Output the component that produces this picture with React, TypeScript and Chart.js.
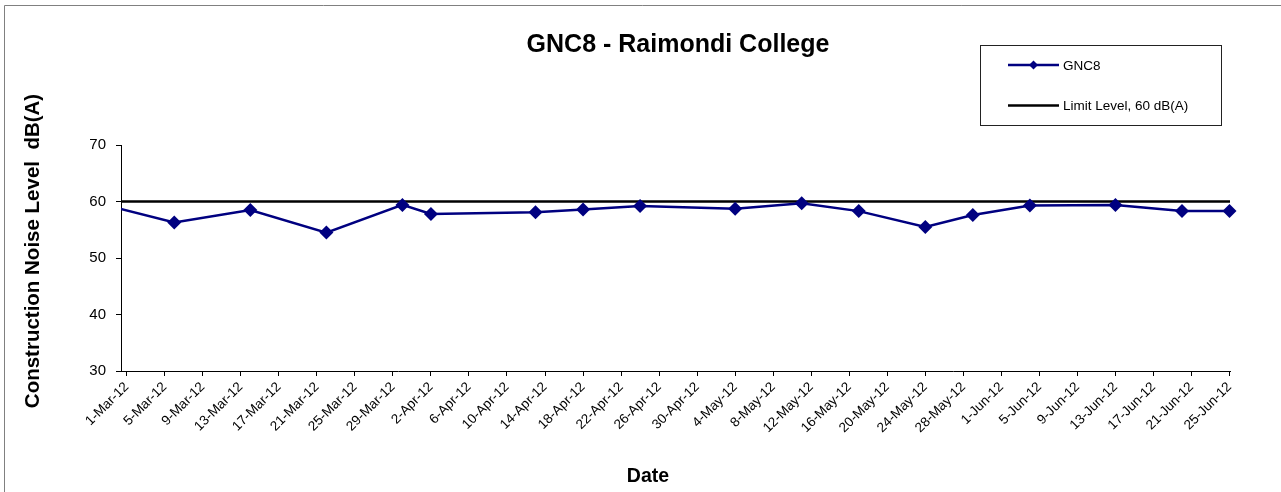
import React, { useEffect, useRef } from "react";
import { Chart, registerables } from "chart.js";

Chart.register(...registerables);

const MONTHS = ["Jan", "Feb", "Mar", "Apr", "May", "Jun", "Jul", "Aug", "Sep", "Oct", "Nov", "Dec"];

const chartTitle = "GNC8 - Raimondi College";
const xAxisTitle = "Date";
const yAxisTitle = "Construction Noise Level  dB(A)";
const seriesLabel = "GNC8";
const limitLabel = "Limit Level, 60 dB(A)";

const sampleDates = [
  "27-Feb-12", "6-Mar-12", "14-Mar-12", "22-Mar-12", "30-Mar-12", "2-Apr-12",
  "13-Apr-12", "18-Apr-12", "24-Apr-12", "4-May-12", "11-May-12", "17-May-12",
  "24-May-12", "29-May-12", "4-Jun-12", "13-Jun-12", "20-Jun-12", "25-Jun-12",
];
const noiseLevels = [
  59.7, 56.3, 58.5, 54.5, 59.4, 57.8,
  58.1, 58.6, 59.2, 58.7, 59.7, 58.3,
  55.5, 57.6, 59.3, 59.4, 58.3, 58.3,
];

const limitDates = ["29-Feb-12", "26-Jun-12"];
const limitLevels = [60, 60];

const tickLabels = [
  "1-Mar-12", "5-Mar-12", "9-Mar-12", "13-Mar-12", "17-Mar-12", "21-Mar-12", "25-Mar-12", "29-Mar-12",
  "2-Apr-12", "6-Apr-12", "10-Apr-12", "14-Apr-12", "18-Apr-12", "22-Apr-12", "26-Apr-12", "30-Apr-12",
  "4-May-12", "8-May-12", "12-May-12", "16-May-12", "20-May-12", "24-May-12", "28-May-12",
  "1-Jun-12", "5-Jun-12", "9-Jun-12", "13-Jun-12", "17-Jun-12", "21-Jun-12", "25-Jun-12",
];

const yMin = 30;
const yMax = 70;
const yStep = 10;

const FONT = '"Liberation Sans", Arial, sans-serif';
const SERIES_COLOR = "#000080";

function toDay(s: string): number {
  const [d, m, y] = s.split("-");
  const t = Date.UTC(2000 + Number(y), MONTHS.indexOf(m), Number(d));
  const origin = Date.UTC(2012, 2, 1);
  return Math.round((t - origin) / 86400000);
}

const labelByDay: Record<number, string> = {};
tickLabels.forEach((l) => {
  labelByDay[toDay(l)] = l;
});

const decorPlugin = {
  id: "decor",
  beforeDraw(chart: any) {
    const ctx = chart.ctx;
    ctx.save();
    ctx.fillStyle = "#ffffff";
    ctx.fillRect(0, 0, chart.width, chart.height);
    ctx.restore();
  },
  afterDraw(chart: any) {
    const ctx = chart.ctx;
    ctx.save();
    // outer frame
    ctx.strokeStyle = "#808080";
    ctx.lineWidth = 1;
    ctx.beginPath();
    ctx.moveTo(4.5, chart.height);
    ctx.lineTo(4.5, 5.5);
    ctx.lineTo(chart.width, 5.5);
    ctx.stroke();

    // title
    ctx.fillStyle = "#000";
    ctx.textAlign = "center";
    ctx.textBaseline = "middle";
    ctx.font = `bold 25px ${FONT}`;
    ctx.fillText(chartTitle, 678, 45);

    // x axis title
    ctx.font = `bold 19.5px ${FONT}`;
    ctx.fillText(xAxisTitle, 648, 477);

    // y axis title
    ctx.save();
    ctx.translate(33, 251);
    ctx.rotate(-Math.PI / 2);
    ctx.font = `bold 20.5px ${FONT}`;
    ctx.fillText(yAxisTitle, 0, 0);
    ctx.restore();

    // legend
    ctx.strokeStyle = "#222";
    ctx.lineWidth = 1;
    ctx.strokeRect(980.5, 45.5, 241, 80);
    const ds = chart.data.datasets;
    const items = [
      { label: ds[0].label, color: SERIES_COLOR, marker: true, y: 65 },
      { label: ds[1].label, color: "#000", marker: false, y: 105.5 },
    ];
    items.forEach((it) => {
      ctx.strokeStyle = it.color;
      ctx.lineWidth = 2.5;
      ctx.beginPath();
      ctx.moveTo(1008, it.y);
      ctx.lineTo(1059, it.y);
      ctx.stroke();
      if (it.marker) {
        ctx.fillStyle = it.color;
        ctx.beginPath();
        ctx.moveTo(1033.5, it.y - 4.5);
        ctx.lineTo(1038, it.y);
        ctx.lineTo(1033.5, it.y + 4.5);
        ctx.lineTo(1029, it.y);
        ctx.closePath();
        ctx.fill();
      }
      ctx.fillStyle = "#000";
      ctx.textAlign = "left";
      ctx.textBaseline = "middle";
      ctx.font = `13.5px ${FONT}`;
      ctx.fillText(it.label, 1063, it.y + 1);
    });
    ctx.restore();
  },
};

export default function App() {
  const canvasRef = useRef<HTMLCanvasElement | null>(null);

  useEffect(() => {
    if (!canvasRef.current) return;
    const chart = new Chart(canvasRef.current, {
      type: "line",
      data: {
        datasets: [
          {
            label: seriesLabel,
            data: sampleDates.map((d, i) => ({ x: toDay(d), y: noiseLevels[i] })),
            borderColor: SERIES_COLOR,
            backgroundColor: SERIES_COLOR,
            borderWidth: 2.5,
            pointStyle: "rectRot",
            pointRadius: 7,
            pointBorderWidth: 0,
            pointBackgroundColor: SERIES_COLOR,
            tension: 0,
            clip: { left: 0, top: false, right: false, bottom: false } as any,
          },
          {
            label: limitLabel,
            data: limitDates.map((d, i) => ({ x: toDay(d), y: limitLevels[i] })),
            borderColor: "#000",
            backgroundColor: "#000",
            borderWidth: 2.5,
            pointRadius: 0,
            tension: 0,
            clip: 0 as any,
          },
        ],
      },
      options: {
        animation: false,
        responsive: false,
        devicePixelRatio: 1,
        layout: { padding: { top: 145, right: 51, left: 0, bottom: 0 } },
        plugins: {
          legend: { display: false },
          tooltip: { enabled: false },
          title: { display: false },
        },
        scales: {
          x: {
            type: "linear",
            min: toDay(tickLabels[0]) - 0.6,
            max: toDay(tickLabels[tickLabels.length - 1]) + 0.05,
            afterBuildTicks: (scale: any) => {
              scale.ticks = tickLabels.map((l) => ({ value: toDay(l) }));
            },
            afterFit: (scale: any) => {
              scale.height = 121;
            },
            ticks: {
              autoSkip: false,
              maxRotation: 45,
              minRotation: 45,
              padding: 3,
              color: "#000",
              font: { family: FONT, size: 13.5 },
              callback: (v: any) => labelByDay[Math.round(Number(v))] ?? "",
            },
            grid: {
              display: true,
              drawOnChartArea: false,
              drawTicks: true,
              tickLength: 5,
              color: "#000",
            },
            border: { display: true, color: "#000", width: 1 },
          },
          y: {
            type: "linear",
            min: yMin,
            max: yMax,
            afterFit: (scale: any) => {
              scale.width = 121;
            },
            ticks: {
              stepSize: yStep,
              padding: 10,
              color: "#000",
              font: { family: FONT, size: 15 },
            },
            grid: {
              display: true,
              drawOnChartArea: false,
              drawTicks: true,
              tickLength: 5,
              color: "#000",
            },
            border: { display: true, color: "#000", width: 1 },
          },
        },
      },
      plugins: [decorPlugin],
    });
    return () => chart.destroy();
  }, []);

  return (
    <div style={{ position: "absolute", left: 0, top: 0, width: 1281, height: 492 }}>
      <canvas ref={canvasRef} width={1281} height={492} style={{ width: 1281, height: 492, display: "block" }} />
    </div>
  );
}
